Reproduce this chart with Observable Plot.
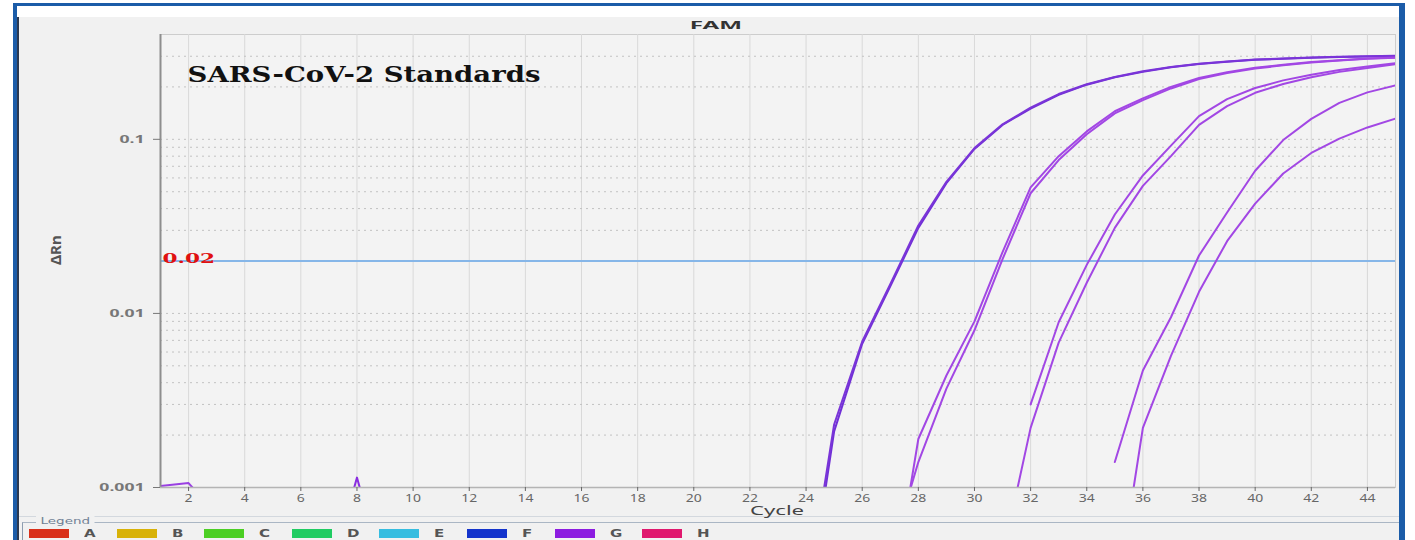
<!DOCTYPE html>
<html>
<head>
<meta charset="utf-8">
<script src="https://cdn.jsdelivr.net/npm/d3@7"></script>
<script src="https://cdn.jsdelivr.net/npm/@observablehq/plot@0.6"></script>
<style>
html,body{margin:0;padding:0;background:#fff;}
body{width:1415px;height:540px;overflow:hidden;position:relative;font-family:"DejaVu Sans",Arial,sans-serif;}
.abs{position:absolute;}
#topbar{left:13px;top:3px;width:1392px;height:3px;background:#1b5ca8;}
#leftbar{left:13px;top:3px;width:4px;height:537px;background:#1b5ca8;}
#leftline{left:17px;top:17px;width:2px;height:523px;background:#2a3850;}
#rightbar{left:1399px;top:3px;width:6px;height:537px;background:#1b5ca8;}
#panel{left:19px;top:17px;width:1380px;height:523px;background:#f1f1f1;}
#chart{left:0;top:0;}
#sep{left:19px;top:516px;width:1380px;height:1px;background:#d3d8de;}
#fieldset{left:22px;top:522px;width:1376px;height:30px;border-top:1px solid #aab6c4;border-left:1px solid #8d9db0;}
#legendTitle{left:36px;top:516px;font-size:9px;line-height:11px;color:#6f7f94;background:#f1f1f1;padding:0 3px;transform:scaleX(1.5);transform-origin:left center;}
#legend{left:29px;top:529px;display:flex;}
.item{width:87.6px;display:flex;align-items:center;height:9px;}
.sw{width:40px;height:9px;}
.lab{margin-left:15px;font-size:10px;font-weight:bold;color:#555;transform:scaleX(1.5);transform-origin:left center;line-height:9px;}
</style>
</head>
<body>
<div class="abs" id="panel"></div>
<div class="abs" id="topbar"></div>
<div class="abs" id="leftbar"></div>
<div class="abs" id="leftline"></div>
<div class="abs" id="rightbar"></div>
<div class="abs" id="sep"></div>
<div class="abs" id="fieldset"></div>
<div class="abs" id="legendTitle">Legend</div>
<div class="abs" id="legend"></div>
<div class="abs" id="chart"></div>
<script>
// ---- data ----
const title = "SARS-CoV-2 Standards";
const channel = "FAM";
const xLabel = "Cycle";
const yLabel = "ΔRn";
const threshold = 0.02;
const thresholdLabel = "0.02";
const xTickValues = [2,4,6,8,10,12,14,16,18,20,22,24,26,28,30,32,34,36,38,40,42,44];
const yTickValues = [0.001, 0.01, 0.1];
const yTickLabels = ["0.001", "0.01", "0.1"];
const yGridValues = [0.002,0.003,0.004,0.005,0.006,0.007,0.008,0.009,0.01,
                     0.02,0.03,0.04,0.05,0.06,0.07,0.08,0.09,0.1,0.2,0.3];

const wellNames   = ["Std1a","Std1b","Std2a","Std2b","Std3a","Std3b","Std4a","Std4b","Base1","Base2"];
const startCycles = [24, 24, 27, 27, 32, 31, 35, 35, 1, 7];

const std1a = [0.00018,0.0021,0.0067,0.0143,0.031,0.056,0.088,0.121,0.150,0.180,0.206,0.227,0.244,0.259,0.271,0.279,0.286,0.290,0.294,0.297,0.299,0.301];
const std1b = [0.00022,0.0023,0.0069,0.0147,0.032,0.057,0.089,0.122,0.152,0.182,0.207,0.228,0.246,0.260,0.272,0.280,0.287,0.291,0.295,0.298,0.300,0.302];
const std2a = [0.0002,0.0019,0.0044,0.0090,0.0225,0.053,0.080,0.111,0.145,0.172,0.200,0.225,0.243,0.258,0.268,0.278,0.285,0.291,0.295];
const std2b = [0.0004,0.0014,0.0037,0.0080,0.0205,0.049,0.076,0.107,0.141,0.168,0.196,0.222,0.240,0.255,0.266,0.276,0.284,0.290,0.294];
const std3a = [0.0030,0.0089,0.019,0.037,0.062,0.092,0.136,0.170,0.197,0.218,0.235,0.250,0.262,0.274];
const std3b = [0.0004,0.0022,0.0068,0.015,0.031,0.054,0.080,0.121,0.155,0.185,0.208,0.227,0.244,0.257,0.270];
const std4a = [0.0014,0.0047,0.0095,0.0215,0.038,0.066,0.099,0.131,0.162,0.186,0.204];
const std4b = [0.0002,0.0022,0.0057,0.0133,0.026,0.0427,0.0636,0.0835,0.101,0.117,0.1315];
const base1 = [0.00102,0.00106,0.0007];
const base2 = [0.0003,0.00114,0.0003];
const allValues = [std1a,std1b,std2a,std2b,std3a,std3b,std4a,std4b,base1,base2];

const legendLabels = ["A","B","C","D","E","F","G","H"];
const legendColors = ["#d9301a","#d8b208","#4ccf24","#20cc62","#36bde0","#1434cc","#8c1ce0","#e0186e"];
const lineColors   = ["#7030d6","#7a34d8","#a247e4","#a247e4","#a247e4","#a247e4","#a247e4","#a247e4","#9a40e2","#8a2ee0"];

// ---- rows ----
const rows = wellNames.flatMap((w, i) =>
  allValues[i].map((v, j) => ({well: w, cycle: startCycles[i] + j, value: v})));

const chart = Plot.plot({
  width: 1415,
  height: 515,
  marginLeft: 160,
  marginRight: 20,
  marginTop: 34,
  marginBottom: 28,
  style: {background: "transparent", overflow: "visible"},
  x: {domain: [1, 45]},
  y: {type: "log", domain: [0.001, 0.4]},
  color: {domain: wellNames, range: lineColors},
  marks: [
    Plot.frame({fill: "#f3f3f3", stroke: "#cdcdcd"}),
    Plot.ruleX(xTickValues, {stroke: "#d9d9d9", strokeWidth: 1}),
    Plot.ruleY(yGridValues, {stroke: "#c2c2c2", strokeDasharray: "2,4", strokeWidth: 1}),
    Plot.ruleY([threshold], {stroke: "#86b6e8", strokeWidth: 2}),
    Plot.line(rows, {x: "cycle", y: "value", z: "well", stroke: "well", strokeWidth: 2, clip: true}),
    Plot.ruleX([1], {stroke: "#8e8e8e", strokeWidth: 2}),
    Plot.ruleY([0.001], {stroke: "#b4b4b4", strokeWidth: 1.5}),
    Plot.axisX({ticks: xTickValues, tickSize: 4, tickPadding: 3, fontSize: 10, label: null, color: "#666"}),
    Plot.axisY({ticks: yTickValues, tickFormat: d => yTickLabels[yTickValues.indexOf(d)],
                tickSize: 7, tickPadding: 9, fontSize: 11, fontWeight: "bold", label: null, color: "#777"}),
    Plot.text([thresholdLabel], {frameAnchor: "left", y: () => threshold, text: d => d, dx: 2, dy: -2,
                textAnchor: "start", fill: "#e01010", fontWeight: "bold", fontSize: 12,
                fontFamily: "DejaVu Serif", className: "stretch-thr"}),
    Plot.text([title], {frameAnchor: "top-left", dx: 27, dy: 40, textAnchor: "start", lineAnchor: "middle",
                fill: "#111", fontWeight: "bold", fontSize: 23, fontFamily: "DejaVu Serif", className: "title-txt"}),
    Plot.text([channel], {frameAnchor: "top", dx: -62, dy: -9, lineAnchor: "middle", fill: "#333", fontSize: 11,
                fontWeight: "bold", className: "stretch-fam"}),
    Plot.text([xLabel], {frameAnchor: "bottom", dx: -1, dy: 24, lineAnchor: "middle", fill: "#444", fontSize: 12, className: "stretch-cyc"}),
    Plot.text([yLabel], {frameAnchor: "left", dx: -104, dy: 4, rotate: -90, fill: "#555", fontSize: 15, fontWeight: "bold"})
  ]
});
document.getElementById("chart").appendChild(chart);

// horizontal stretching of texts (the reference screenshot is stretched)
function stretch(nodes, k) {
  nodes.forEach(el => {
    const t = el.getAttribute("transform");
    if (t) el.setAttribute("transform", t + ` scale(${k},1)`);
    else {
      const x = +el.getAttribute("x") || 0, y = +el.getAttribute("y") || 0;
      el.setAttribute("transform", `translate(${x},${y}) scale(${k},1) translate(${-x},${-y})`);
    }
  });
}
const svg = chart.tagName.toLowerCase() === "svg" ? chart : chart.querySelector("svg");
stretch([...svg.querySelectorAll('g[aria-label="y-axis tick label"] text')], 1.6);
stretch([...svg.querySelectorAll('g[aria-label="x-axis tick label"] text')], 1.4);
stretch([...svg.querySelectorAll('.stretch-thr text')], 1.8);
stretch([...svg.querySelectorAll('.stretch-fam text')], 2.2);
stretch([...svg.querySelectorAll('.stretch-cyc text')], 1.85);
const tt = svg.querySelector('.title-txt text');
if (tt) { const len = tt.getComputedTextLength(); stretch([tt], 353 / len); }

// legend
const lg = d3.select("#legend");
legendLabels.forEach((l, i) => {
  const it = lg.append("div").attr("class", "item");
  it.append("div").attr("class", "sw").style("background", legendColors[i]);
  it.append("div").attr("class", "lab").text(l);
});
</script>
</body>
</html>
